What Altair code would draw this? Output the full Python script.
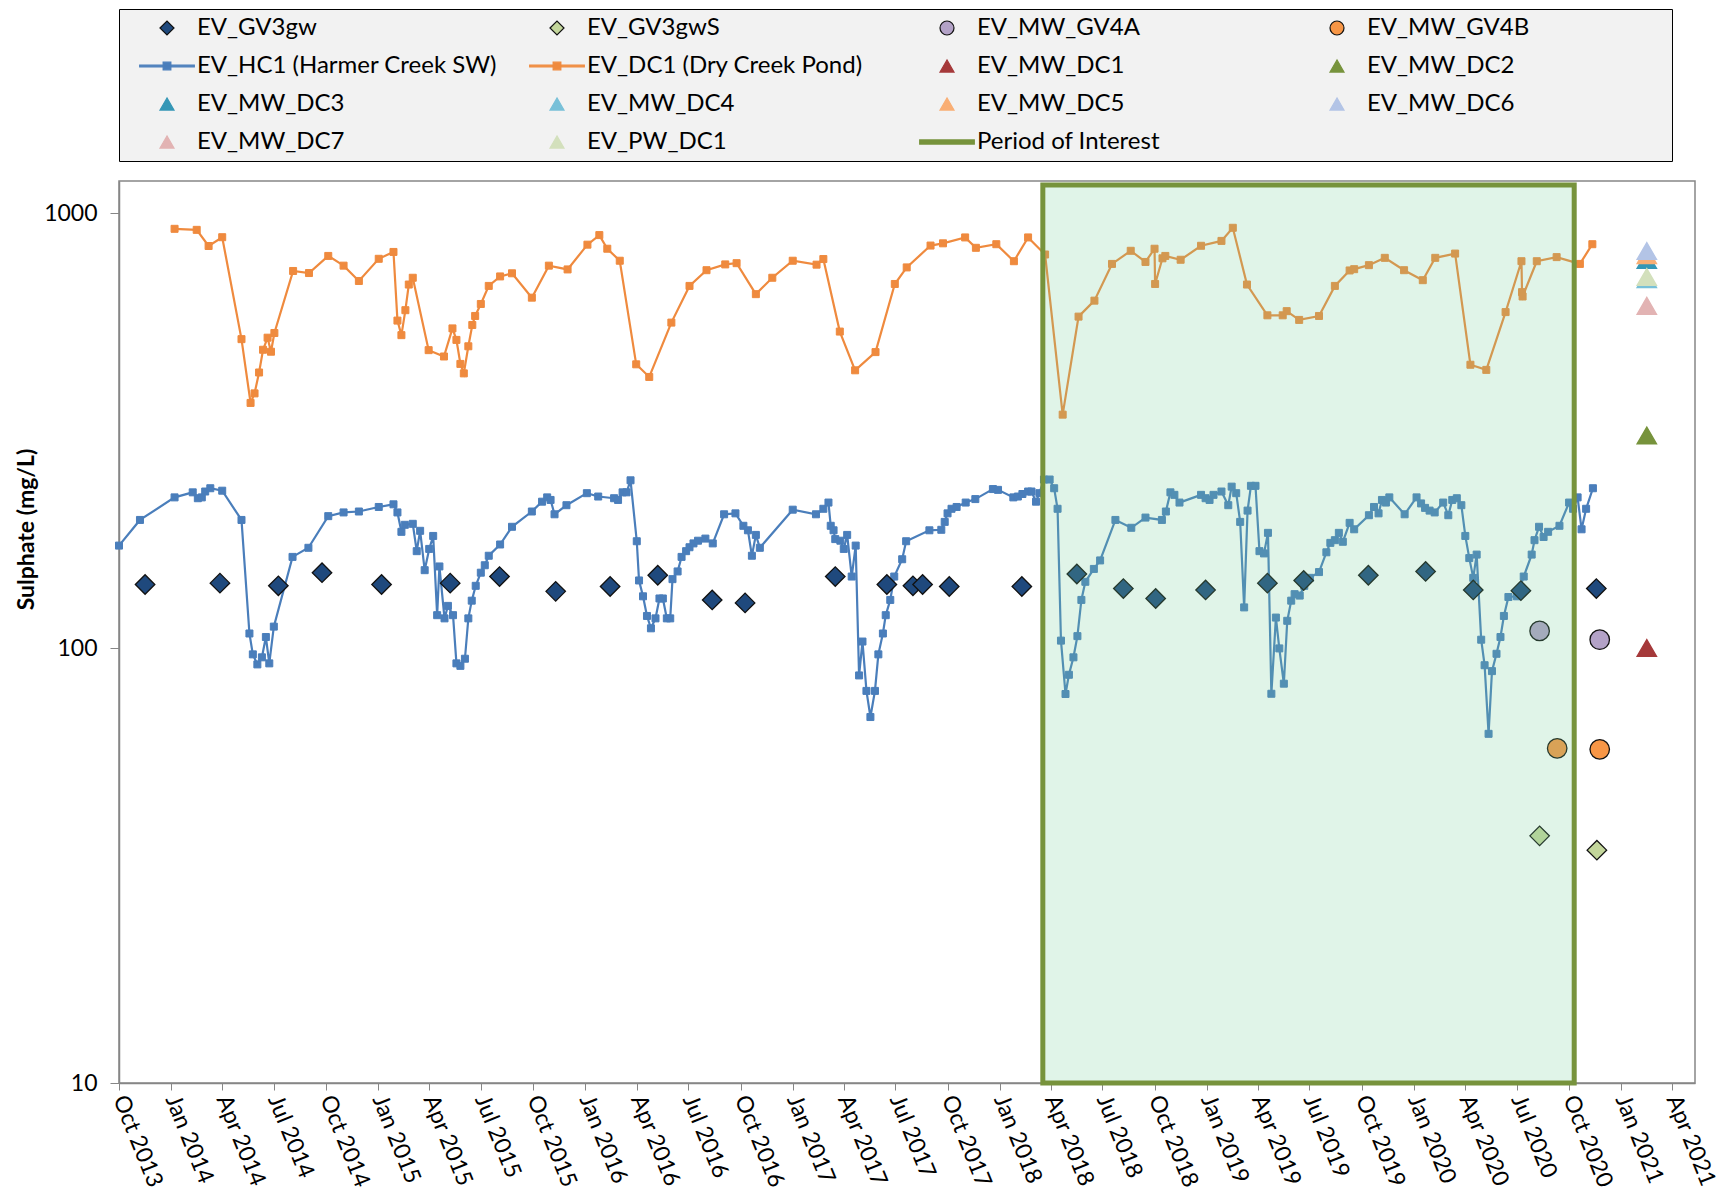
import altair as alt
import pandas as pd

# ---------------- data ----------------
series_names = [
    "EV_GV3gw", "EV_GV3gwS", "EV_MW_GV4A", "EV_MW_GV4B",
    "EV_HC1 (Harmer Creek SW)", "EV_DC1 (Dry Creek Pond)", "EV_MW_DC1", "EV_MW_DC2",
    "EV_MW_DC3", "EV_MW_DC4", "EV_MW_DC5", "EV_MW_DC6",
    "EV_MW_DC7", "EV_PW_DC1", "Period of Interest",
]
fill_colors = [
    "#1f497d", "#c3d69b", "#b3a2c7", "#f79646",
    "#4a7ebb", "#ef8a3e", "#a5393a", "#77933c",
    "#3597b6", "#78c0d8", "#f9ae74", "#b3c4e6",
    "#e2b3b3", "#d3e0bc", "#77933c",
]
stroke_colors = [
    "#111111", "#111111", "#111111", "#111111",
    "#4a7ebb", "#ef8a3e", "#a5393a", "#77933c",
    "#3597b6", "#78c0d8", "#f9ae74", "#b3c4e6",
    "#e2b3b3", "#d3e0bc", "#77933c",
]
LINE_SQ = "M-3.9,-0.12H3.9V0.12H-3.9Z M-0.55,-0.55H0.55V0.55H-0.55Z"
PERIOD_LINE = "M-3.9,-0.3H3.9V0.3H-3.9Z"
series_shapes = [
    "diamond", "diamond", "circle", "circle",
    LINE_SQ, LINE_SQ, "triangle-up", "triangle-up",
    "triangle-up", "triangle-up", "triangle-up", "triangle-up",
    "triangle-up", "triangle-up", PERIOD_LINE,
]
last_column_labels = ["EV_MW_GV4B", "EV_MW_DC2", "EV_MW_DC6"]

hc1_dates = [
    "2013-10-01", "2013-11-07", "2014-01-07", "2014-02-08", "2014-02-17", "2014-02-24", "2014-03-02",
    "2014-03-11", "2014-04-01", "2014-05-05", "2014-05-19", "2014-05-25", "2014-06-02", "2014-06-10",
    "2014-06-17", "2014-06-23", "2014-07-01", "2014-08-03", "2014-08-31", "2014-10-05", "2014-11-01",
    "2014-11-28", "2015-01-02", "2015-01-28", "2015-02-04", "2015-02-11", "2015-02-17", "2015-03-03",
    "2015-03-10", "2015-03-16", "2015-03-24", "2015-04-01", "2015-04-08", "2015-04-15", "2015-04-19",
    "2015-04-28", "2015-05-04", "2015-05-13", "2015-05-19", "2015-05-26", "2015-06-03", "2015-06-09",
    "2015-06-15", "2015-06-22", "2015-07-01", "2015-07-08", "2015-07-15", "2015-08-04", "2015-08-25",
    "2015-09-29", "2015-10-17", "2015-10-26", "2015-11-01", "2015-11-08", "2015-11-29", "2016-01-04",
    "2016-01-24", "2016-02-21", "2016-02-28", "2016-03-07", "2016-03-14", "2016-03-21", "2016-04-01",
    "2016-04-05", "2016-04-12", "2016-04-19", "2016-04-26", "2016-05-04", "2016-05-11", "2016-05-17",
    "2016-05-24", "2016-05-30", "2016-06-03", "2016-06-12", "2016-06-19", "2016-06-27", "2016-07-03",
    "2016-07-10", "2016-07-18", "2016-07-31", "2016-08-13", "2016-09-02", "2016-09-22", "2016-10-06",
    "2016-10-14", "2016-10-21", "2016-10-28", "2016-11-04", "2017-01-01", "2017-02-11", "2017-02-24",
    "2017-03-05", "2017-03-09", "2017-03-14", "2017-03-17", "2017-03-26", "2017-04-01", "2017-04-07",
    "2017-04-15", "2017-04-22", "2017-04-28", "2017-05-04", "2017-05-11", "2017-05-18", "2017-05-26",
    "2017-06-01", "2017-06-09", "2017-06-14", "2017-06-22", "2017-06-29", "2017-07-13", "2017-07-20",
    "2017-08-30", "2017-09-20", "2017-09-26", "2017-10-01", "2017-10-08", "2017-10-17", "2017-11-02",
    "2017-11-19", "2017-12-20", "2017-12-29", "2018-01-25", "2018-02-02", "2018-02-10", "2018-02-20",
    "2018-02-26", "2018-03-06", "2018-03-12", "2018-03-20", "2018-03-30", "2018-04-07", "2018-04-13",
    "2018-04-19", "2018-04-27", "2018-05-03", "2018-05-11", "2018-05-18", "2018-05-25", "2018-06-01",
    "2018-06-16", "2018-06-27", "2018-07-24", "2018-08-21", "2018-09-15", "2018-10-14", "2018-10-21",
    "2018-10-29", "2018-11-05", "2018-11-14", "2018-12-22", "2018-12-30", "2019-01-06", "2019-01-13",
    "2019-01-27", "2019-02-08", "2019-02-14", "2019-02-22", "2019-03-01", "2019-03-08", "2019-03-14",
    "2019-03-20", "2019-03-28", "2019-04-04", "2019-04-12", "2019-04-19", "2019-04-25", "2019-05-03",
    "2019-05-09", "2019-05-17", "2019-05-23", "2019-05-30", "2019-06-05", "2019-06-14", "2019-06-22",
    "2019-07-02", "2019-07-18", "2019-07-31", "2019-08-07", "2019-08-15", "2019-08-22", "2019-08-29",
    "2019-09-10", "2019-09-18", "2019-10-14", "2019-10-23", "2019-10-31", "2019-11-06", "2019-11-13",
    "2019-11-19", "2019-12-16", "2020-01-06", "2020-01-14", "2020-01-21", "2020-01-29", "2020-02-07",
    "2020-02-22", "2020-03-02", "2020-03-09", "2020-03-17", "2020-03-25", "2020-04-01", "2020-04-08",
    "2020-04-15", "2020-04-21", "2020-04-29", "2020-05-05", "2020-05-12", "2020-05-18", "2020-05-26",
    "2020-06-02", "2020-06-08", "2020-06-16", "2020-07-01", "2020-07-13", "2020-07-27", "2020-08-01",
    "2020-08-09", "2020-08-17", "2020-08-25", "2020-09-14", "2020-10-01", "2020-10-08", "2020-10-16",
    "2020-10-23", "2020-10-31", "2020-11-12",
]
hc1_values = [
    172, 197, 222, 228, 221, 222, 229,
    233, 230, 197, 108, 96.7, 91.7, 95.2,
    106, 92.2, 112, 162, 170, 201, 205,
    206, 211, 214, 205, 185, 192, 193,
    167, 186, 151, 169, 181, 119, 154,
    117, 125, 119, 92.2, 91, 94.5, 117,
    128.5, 139, 149, 155, 163, 173, 190,
    206, 217, 222, 219, 203, 213, 227,
    223, 221, 219, 228, 228, 243, 176,
    143, 131.5, 118.5, 111, 117, 130, 130,
    117, 117, 144, 150, 162, 167, 170.5,
    174, 176.5, 178.5, 174, 203, 204, 191,
    186.5, 163, 182, 170, 208, 203, 209,
    216, 191, 186.5, 178, 176.5, 169, 182,
    146, 172, 86.5, 103.5, 79.7, 69.4, 79.7,
    96.7, 108, 119, 129, 146, 160, 176,
    186.5, 187, 195, 204, 209, 211, 216,
    220, 232, 231, 222, 223, 226, 229,
    229, 217, 227, 244, 244, 233, 209,
    104, 78.4, 86.8, 95.2, 106.5, 129, 142,
    152, 159, 197, 189, 199.5, 197, 206,
    228, 225, 216, 225, 221, 219, 225,
    229, 213, 235, 227, 195, 124, 207,
    236, 236, 167, 165, 184, 78.5, 117.5,
    99.8, 82.8, 115.5, 128.5, 133, 132, 139,
    145, 149.5, 166, 174.5, 177, 184, 175.5,
    194, 187.5, 202, 211, 204, 219, 216,
    222, 203, 222, 215, 210, 207, 205,
    216, 202, 219, 221, 213, 181, 161,
    145, 164, 104.5, 91.3, 63.5, 88.5, 97,
    106, 118.5, 131, 131.5, 146, 164, 177,
    190, 180, 185, 191, 216, 209, 222,
    187.5, 209, 233,
]

dc1_dates = [
    "2014-01-07", "2014-02-15", "2014-03-08", "2014-04-01", "2014-05-05", "2014-05-21", "2014-05-28",
    "2014-06-05", "2014-06-12", "2014-06-20", "2014-06-26", "2014-07-02", "2014-08-04", "2014-09-01",
    "2014-10-05", "2014-11-01", "2014-11-28", "2015-01-02", "2015-01-28", "2015-02-04", "2015-02-11",
    "2015-02-18", "2015-02-24", "2015-03-03", "2015-03-31", "2015-04-27", "2015-05-12", "2015-05-19",
    "2015-05-26", "2015-06-01", "2015-06-09", "2015-06-16", "2015-06-21", "2015-07-01", "2015-07-15",
    "2015-08-04", "2015-08-25", "2015-09-29", "2015-10-29", "2015-12-01", "2016-01-05", "2016-01-26",
    "2016-02-09", "2016-03-02", "2016-03-31", "2016-04-23", "2016-06-01", "2016-07-03", "2016-08-02",
    "2016-09-04", "2016-09-24", "2016-10-28", "2016-11-26", "2017-01-01", "2017-02-12", "2017-02-24",
    "2017-03-25", "2017-04-21", "2017-05-27", "2017-06-30", "2017-07-21", "2017-09-01", "2017-09-23",
    "2017-11-01", "2017-11-20", "2017-12-26", "2018-01-26", "2018-02-20", "2018-03-22", "2018-04-22",
    "2018-05-20", "2018-06-17", "2018-07-18", "2018-08-20", "2018-09-15", "2018-10-01", "2018-10-02",
    "2018-10-15", "2018-10-20", "2018-11-16", "2018-12-22", "2019-01-27", "2019-02-16", "2019-03-13",
    "2019-04-18", "2019-05-15", "2019-05-22", "2019-06-13", "2019-07-18", "2019-08-15", "2019-09-10",
    "2019-09-18", "2019-10-14", "2019-11-11", "2019-12-15", "2020-01-17", "2020-02-08", "2020-03-14",
    "2020-04-10", "2020-05-08", "2020-06-11", "2020-07-09", "2020-07-10", "2020-07-11", "2020-08-05",
    "2020-09-09", "2020-10-20", "2020-11-11",
]
dc1_values = [
    920, 915, 840, 880, 513, 366, 385,
    430, 485, 517, 480, 530, 736, 728,
    797, 757, 698, 785, 814, 566, 524,
    598, 685, 710, 484, 468, 543, 511,
    450, 428, 494, 553, 580, 618, 680,
    715, 727, 639, 757, 742, 846, 890,
    828, 777, 449, 420, 560, 680, 739,
    762, 767, 651, 710, 777, 761, 784,
    534, 435, 479, 687, 750, 842, 852,
    879, 832, 848, 775, 879, 803, 344,
    578, 629, 764, 819, 772, 828, 687,
    787, 797, 781, 841, 863, 925, 685,
    582, 582, 595, 568, 580, 680, 738,
    743, 759, 789, 739, 701, 789, 807,
    448, 436, 592, 775, 658, 643, 775,
    792, 764, 848,
]

gv3gw_dates = [
    "2013-11-16", "2014-03-28", "2014-07-09", "2014-09-24", "2015-01-07", "2015-05-08", "2015-08-03",
    "2015-11-10", "2016-02-14", "2016-05-08", "2016-08-12", "2016-10-09", "2017-03-17", "2017-06-16",
    "2017-08-01", "2017-08-18", "2017-10-04", "2018-02-09", "2018-05-17", "2018-08-07", "2018-10-03",
    "2018-12-30", "2019-04-18", "2019-06-21", "2019-10-13", "2020-01-22", "2020-04-15", "2020-07-08",
    "2020-11-18",
]
gv3gw_values = [
    140, 141, 139, 149, 140, 141, 146,
    135, 138.5, 147, 129, 127, 146, 140,
    139, 140, 138.5, 138.5, 148, 137, 130,
    136, 141, 143, 147, 150, 136, 135.5,
    137,
]
gv3gws_dates = ["2020-08-10", "2020-11-19"]
gv3gws_values = [37.0, 34.3]
gv4a_dates = ["2020-08-10", "2020-11-24"]
gv4a_values = [109.5, 104.5]
gv4b_dates = ["2020-09-10", "2020-11-24"]
gv4b_values = [58.8, 58.5]

mw_dc_names = ["EV_MW_DC1", "EV_MW_DC2", "EV_MW_DC3", "EV_MW_DC4",
               "EV_MW_DC5", "EV_MW_DC6", "EV_MW_DC7", "EV_PW_DC1"]
mw_dc_date = "2021-02-15"
mw_dc_values = [100, 308, 780, 705, 800, 818, 612, 713]

period_start = "2018-03-18"
period_end = "2020-10-10"
period_low = 10
period_high = 1160

x_tick_dates = [
    "2013-10-01", "2014-01-01", "2014-04-01", "2014-07-01", "2014-10-01", "2015-01-01",
    "2015-04-01", "2015-07-01", "2015-10-01", "2016-01-01", "2016-04-01", "2016-07-01",
    "2016-10-01", "2017-01-01", "2017-04-01", "2017-07-01", "2017-10-01", "2018-01-01",
    "2018-04-01", "2018-07-01", "2018-10-01", "2019-01-01", "2019-04-01", "2019-07-01",
    "2019-10-01", "2020-01-01", "2020-04-01", "2020-07-01", "2020-10-01", "2021-01-01",
    "2021-04-01",
]
x_domain = ["2013-10-01", "2021-05-11"]
y_ticks = [10, 100, 1000]
y_domain = [10, 1185]

# ---------------- tables ----------------
line_df = pd.concat([
    pd.DataFrame({"series": series_names[4], "date": hc1_dates, "value": hc1_values}),
    pd.DataFrame({"series": series_names[5], "date": dc1_dates, "value": dc1_values}),
], ignore_index=True)

pt_parts = [
    pd.DataFrame({"series": "EV_GV3gw", "date": gv3gw_dates, "value": gv3gw_values}),
    pd.DataFrame({"series": "EV_GV3gwS", "date": gv3gws_dates, "value": gv3gws_values}),
    pd.DataFrame({"series": "EV_MW_GV4A", "date": gv4a_dates, "value": gv4a_values}),
    pd.DataFrame({"series": "EV_MW_GV4B", "date": gv4b_dates, "value": gv4b_values}),
    pd.DataFrame({"series": mw_dc_names, "date": mw_dc_date, "value": mw_dc_values}),
]
point_df = pd.concat(pt_parts, ignore_index=True)

period_df = pd.DataFrame({"start": [period_start], "end": [period_end],
                          "lo": [period_low], "hi": [period_high]})


def dt(s):
    y, m, d = (int(v) for v in s.split("-"))
    return alt.DateTime(year=y, month=m, date=d, utc=True)


FONT = "Lato"
GRAY = "#868686"

x_scale = alt.Scale(type="utc", domain=[dt(d) for d in x_domain], nice=False)
y_scale = alt.Scale(type="log", domain=y_domain, nice=False)

x_axis = alt.Axis(
    values=[dt(d) for d in x_tick_dates],
    labelExpr="utcFormat(datum.value, '%b %Y')",
    labelAngle=68, labelAlign="left", labelBaseline="middle",
    labelFont=FONT, labelFontSize=23, labelColor="#000000",
    labelOverlap=False, labelFlush=False, labelPadding=6,
    tickSize=7, tickColor=GRAY, domainColor=GRAY, domainWidth=1.5,
    grid=False, title=None,
)
y_axis = alt.Axis(
    values=y_ticks, format="d",
    labelFont=FONT, labelFontSize=23, labelColor="#000000", labelPadding=13,
    tickSize=9, tickColor=GRAY, domainColor=GRAY, domainWidth=1.5,
    grid=False, title="Sulphate (mg/L)", titleFont=FONT, titleFontSize=23,
    titleFontWeight="bold", titleColor="#000000", titlePadding=5, titleY=348,
)

fill_scale = alt.Scale(domain=series_names, range=fill_colors)
stroke_scale = alt.Scale(domain=series_names, range=stroke_colors)
shape_scale = alt.Scale(domain=series_names, range=series_shapes)

# blank padding after the last-column labels, so the legend box is as wide as the reference's
pad_text = "\u00a0" * 22 + "\u200b"
label_expr = (
    "indexof(" + str(last_column_labels) + ", datum.label) >= 0 ? datum.label + '"
    + pad_text + "' : datum.label"
)

legend = alt.Legend(
    title=None, orient="top", direction="horizontal", columns=4, gridAlign="all",
    columnPadding=19, rowPadding=14, padding=7, offset=20,
    fillColor="#f2f2f2", strokeColor="#000000",
    labelFont=FONT, labelFontSize=24, labelColor="#000000", labelLimit=700,
    labelExpr=label_expr,
    labelOffset=18, symbolOffset=29, symbolSize=196, symbolStrokeWidth=1.2,
    symbolOpacity=1,
)

x_enc = alt.X("date:T", scale=x_scale, axis=x_axis)
y_enc = alt.Y("value:Q", scale=y_scale, axis=y_axis)

line_layers = []
for idx in (4, 5):
    name = series_names[idx]
    color = fill_colors[idx]
    base = alt.Chart(line_df).transform_filter(alt.datum.series == name)
    line_layers.append(base.mark_line(stroke=color, strokeWidth=2.2).encode(x=x_enc, y=y_enc))
    line_layers.append(base.mark_point(shape="square", filled=True, fill=color, stroke=color,
                                       size=49, strokeWidth=1, opacity=1).encode(x=x_enc, y=y_enc))

points = alt.Chart(point_df).mark_point(filled=True, size=380, strokeWidth=1.3,
                                        opacity=1).encode(
    x=x_enc, y=y_enc,
    shape=alt.Shape("series:N", scale=shape_scale, legend=legend),
    fill=alt.Fill("series:N", scale=fill_scale, legend=legend),
    stroke=alt.Stroke("series:N", scale=stroke_scale, legend=legend),
)
period = alt.Chart(period_df).mark_rect(
    fill="#72cd96", fillOpacity=0.22, stroke="#77933c", strokeWidth=5
).encode(
    x=alt.X("start:T", scale=x_scale, axis=x_axis),
    x2="end:T",
    y=alt.Y("lo:Q", scale=y_scale, axis=y_axis),
    y2="hi:Q",
)

chart = alt.layer(*line_layers, points, period).properties(
    width=1576, height=902,
    padding={"left": 7, "top": 0, "right": 0, "bottom": 0},
).configure_view(stroke=GRAY, strokeWidth=1.5)

chart.save("out.html", embed_options={"renderer": "svg", "actions": False})
